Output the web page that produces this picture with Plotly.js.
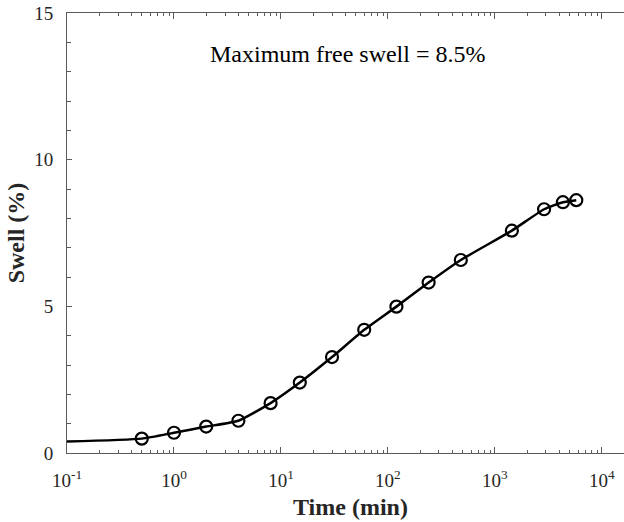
<!DOCTYPE html>
<html>
<head>
<meta charset="utf-8">
<script src="https://cdn.plot.ly/plotly-3.0.1.min.js"></script>
<style>
html,body{margin:0;padding:0;overflow:hidden;background:#fff;width:624px;height:522px;}
#wrap{width:624px;height:522px;overflow:hidden;}
#chart{width:634px;height:522px;}
</style>
</head>
<body>
<div id="wrap"><div id="chart"></div></div>
<script>
// Data
var timeMin = [0.5, 1, 2, 4, 8, 15, 30, 60, 120, 240, 480, 1440, 2880, 4320, 5760];
var swellPct = [0.49, 0.69, 0.90, 1.10, 1.70, 2.40, 3.27, 4.20, 4.99, 5.81, 6.58, 7.58, 8.31, 8.55, 8.62];
// Curve starts at the left edge of the axis (no marker there)
var startTime = [0.1];
var startSwell = [0.39];

var xTickVals = [0.1, 1, 10, 100, 1000, 10000];
var xTickText = ['10<sup>-1</sup>', '10<sup>0</sup>', '10<sup>1</sup>', '10<sup>2</sup>', '10<sup>3</sup>', '10<sup>4</sup>'];
var yTickVals = [0, 5, 10, 15];
var yTickText = ['0', '5', '10', '15'];
var noteText = 'Maximum free swell = 8.5%';

var lineX = startTime.concat(timeMin);
var lineY = startSwell.concat(swellPct);

var font = '"Liberation Serif", "Times New Roman", serif';
var axisCol = '#5a5a5a';

var traces = [
  {
    x: lineX, y: lineY, type: 'scatter', mode: 'lines',
    line: {color: '#000', width: 2.5, shape: 'spline', smoothing: 0.5},
    hoverinfo: 'skip', showlegend: false
  },
  {
    x: timeMin, y: swellPct, type: 'scatter', mode: 'markers',
    marker: {symbol: 'circle-open', size: 12, color: '#000', line: {width: 2.2, color: '#000'}},
    showlegend: false
  }
];

var layout = {
  width: 634, height: 522,
  margin: {l: 67, r: 0, t: 13, b: 69, pad: 0},
  paper_bgcolor: '#fff', plot_bgcolor: '#fff',
  font: {family: font, color: '#262626', size: 18},
  showlegend: false,
  xaxis: {
    type: 'log', range: [-1, 4.3],
    tickvals: xTickVals, ticktext: xTickText,
    ticks: 'inside', ticklen: 6, tickwidth: 1, tickcolor: axisCol,
    minor: {ticks: 'inside', ticklen: 3, tickwidth: 1, tickcolor: axisCol, dtick: 'D1'},
    showline: true, linecolor: axisCol, linewidth: 1, mirror: 'ticks',
    showgrid: false, zeroline: false,
    tickfont: {family: font, size: 19, color: '#262626'},
    ticklabelstandoff: 10,
    title: {text: '<b>Time (min)</b>', font: {family: font, size: 24, color: '#262626'}, standoff: 8}
  },
  yaxis: {
    range: [0, 15],
    tickvals: yTickVals, ticktext: yTickText,
    ticks: 'inside', ticklen: 5, tickwidth: 1, tickcolor: axisCol,
    minor: {ticks: 'inside', ticklen: 4, tickwidth: 1, tickcolor: axisCol, dtick: 1},
    showline: true, linecolor: axisCol, linewidth: 1, mirror: false,
    showgrid: false, zeroline: false,
    tickfont: {family: font, size: 19, color: '#262626'},
    ticklabelstandoff: 9,
    title: {text: '<b>Swell (%)</b>', font: {family: font, size: 24, color: '#262626'}, standoff: 2}
  },
  annotations: [
    {
      text: noteText, xref: 'paper', yref: 'paper', x: 0.495, y: 0.906,
      xanchor: 'center', yanchor: 'middle', showarrow: false,
      font: {family: font, size: 24, color: '#000'}
    }
  ]
};

Plotly.newPlot('chart', traces, layout, {displayModeBar: false, staticPlot: true});
</script>
</body>
</html>
